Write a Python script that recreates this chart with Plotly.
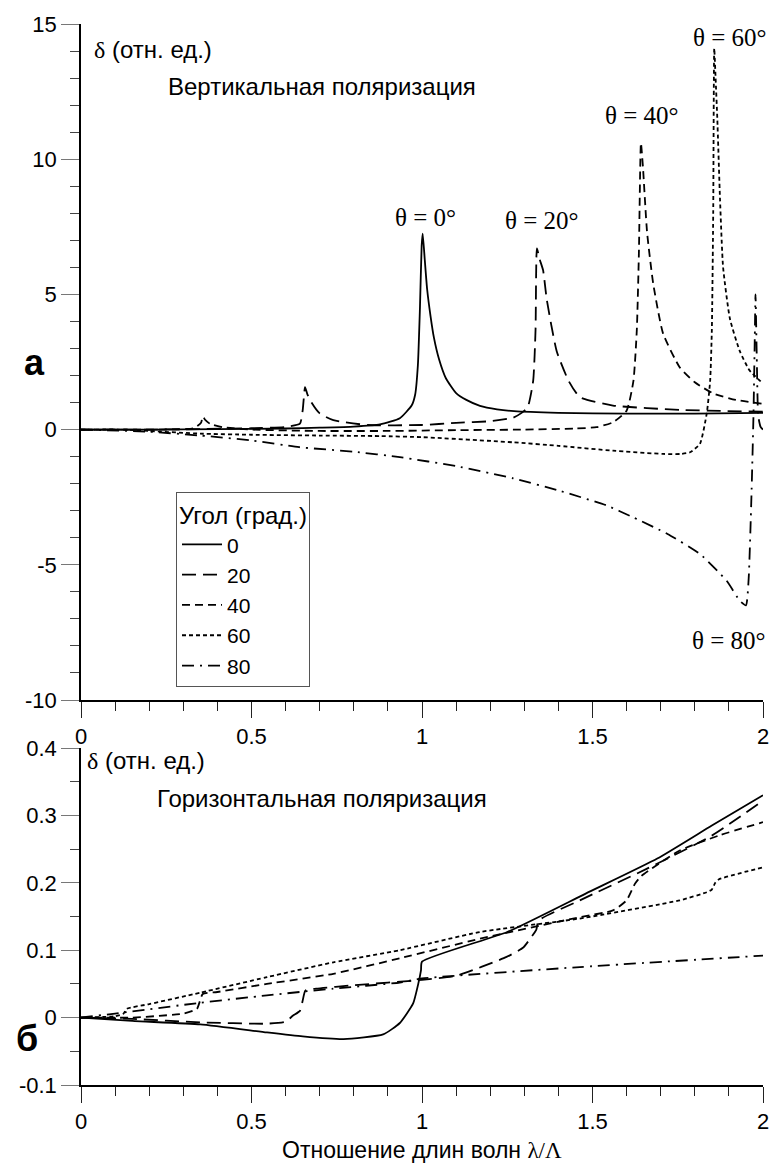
import plotly.graph_objects as go

W, H = 769, 1167

# ---- vertical polarization (top panel) ----
x_v0 = [0, 0.2, 0.4, 0.6, 0.7, 0.8, 0.877, 0.935, 0.97, 0.98, 0.988, 0.994, 0.999, 1.002,
        1.008, 1.015, 1.025, 1.035, 1.05, 1.07, 1.1, 1.13, 1.17, 1.22, 1.27, 1.4, 1.6, 1.8, 2.0]
y_v0 = [0, 0.0, 0.02, 0.04, 0.07, 0.11, 0.19, 0.42, 0.9, 1.3, 2.4, 4.5, 6.8, 7.25,
        6.3, 5.2, 4.2, 3.4, 2.6, 1.9, 1.35, 1.1, 0.88, 0.75, 0.68, 0.62, 0.59, 0.59, 0.62]

x_v20 = [0, 0.2, 0.35, 0.5, 0.6, 0.642, 0.65, 0.657, 0.664, 0.676, 0.7, 0.74, 0.84, 1.0, 1.1,
         1.2, 1.267, 1.29, 1.31, 1.326, 1.333, 1.337, 1.345, 1.355, 1.366, 1.395, 1.43, 1.463,
         1.56, 1.756, 2.0]
y_v20 = [0, 0.0, 0.02, 0.05, 0.1, 0.22, 0.7, 1.57, 1.3, 1.0, 0.6, 0.35, 0.17, 0.17, 0.25,
         0.31, 0.44, 0.6, 0.83, 1.8, 3.7, 6.7, 6.3, 5.9, 4.8, 2.9, 1.8, 1.2,
         0.89, 0.73, 0.66]

x_v40 = [0, 0.2, 0.33, 0.352, 0.357, 0.365, 0.38, 0.42, 0.5, 0.7, 0.9, 1.1, 1.3, 1.45, 1.512,
         1.56, 1.6, 1.62, 1.63, 1.636, 1.642, 1.648, 1.66, 1.678, 1.707, 1.756, 1.8, 1.855,
         1.92, 2.0]
y_v40 = [0, 0.0, 0.05, 0.25, 0.48, 0.35, 0.2, 0.08, 0.0, -0.05, -0.05, -0.02, 0.0, 0.04, 0.09,
         0.27, 0.7, 1.8, 3.7, 6.5, 10.6, 9.7, 7.3, 5.4, 3.55, 2.3, 1.75, 1.33,
         1.1, 0.95]

x_v60 = [0, 0.13, 0.2, 0.35, 0.5, 0.7, 0.877, 1.0, 1.267, 1.4, 1.56, 1.707, 1.76, 1.786,
         1.815, 1.835, 1.845, 1.85, 1.854, 1.857, 1.861, 1.866, 1.874, 1.883, 1.903, 1.932,
         1.96, 2.0]
y_v60 = [0, 0.0, -0.05, -0.15, -0.19, -0.22, -0.24, -0.28, -0.47, -0.6, -0.78, -0.9, -0.9, -0.84,
         -0.53, 0.6, 1.8, 3.7, 8.0, 14.1, 13.0, 11.5, 8.5, 6.0, 4.1, 2.9,
         2.2, 1.7]

x_v80 = [0, 0.2, 0.35, 0.5, 0.64, 0.8, 0.935, 1.1, 1.267, 1.4, 1.54, 1.62, 1.72, 1.815, 1.894,
         1.932, 1.95, 1.958, 1.966, 1.972, 1.976, 1.978, 1.982, 1.986, 1.993, 2.0]
y_v80 = [0, -0.08, -0.22, -0.4, -0.65, -0.82, -1.02, -1.35, -1.8, -2.25, -2.8, -3.25, -3.86, -4.6, -5.6,
         -6.33, -6.5, -5.5, -2.5, 0.5, 3.5, 5.0, 2.5, 0.5, 0.1, 0.0]

# ---- horizontal polarization (bottom panel) ----
x_h0 = [0, 0.15, 0.35, 0.545, 0.65, 0.77, 0.886, 0.935, 0.974, 0.989, 0.997, 1.0,
        1.25, 1.48, 1.69, 1.85, 2.0]
y_h0 = [0, -0.005, -0.01, -0.022, -0.028, -0.032, -0.025, -0.008, 0.021, 0.05, 0.07, 0.083,
        0.127, 0.184, 0.236, 0.285, 0.33]

x_h20 = [0, 0.15, 0.35, 0.545, 0.6, 0.622, 0.642, 0.65, 0.658, 0.69, 0.8, 1.0, 1.1, 1.248,
         1.297, 1.32, 1.335, 1.342, 1.463, 1.66, 1.85, 2.0]
y_h20 = [0, -0.002, -0.007, -0.009, -0.006, 0.003, 0.01, 0.025, 0.04, 0.043, 0.048, 0.056, 0.062, 0.09,
         0.104, 0.119, 0.13, 0.144, 0.174, 0.221, 0.27, 0.322]

x_h40 = [0, 0.15, 0.3, 0.34, 0.357, 0.4, 0.545, 0.74, 0.935, 1.17, 1.463, 1.56, 1.6, 1.625,
         1.643, 1.756, 1.87, 2.0]
y_h40 = [0, 0.0, 0.006, 0.013, 0.035, 0.038, 0.05, 0.065, 0.088, 0.117, 0.149, 0.159, 0.174, 0.199,
         0.21, 0.248, 0.27, 0.29]

x_h60 = [0, 0.1, 0.125, 0.134, 0.2, 0.35, 0.545, 0.74, 0.935, 1.17, 1.463, 1.756, 1.835,
         1.85, 1.86, 1.87, 2.0]
y_h60 = [0, 0.002, 0.006, 0.013, 0.02, 0.037, 0.06, 0.082, 0.1, 0.127, 0.147, 0.174, 0.186,
         0.19, 0.2, 0.205, 0.223]

x_h80 = [0, 0.015, 0.1, 0.35, 0.545, 0.74, 0.935, 1.0, 1.463, 2.0]
y_h80 = [0, 0.001, 0.006, 0.022, 0.033, 0.043, 0.052, 0.058, 0.075, 0.092]

angles = ["0", "20", "40", "60", "80"]
dashes = ["solid", "14px,7px", "8px,5px", "4px,3px", "12px,6px,2px,6px"]
vert = [(x_v0, y_v0), (x_v20, y_v20), (x_v40, y_v40), (x_v60, y_v60), (x_v80, y_v80)]
horiz = [(x_h0, y_h0), (x_h20, y_h20), (x_h40, y_h40), (x_h60, y_h60), (x_h80, y_h80)]

SANS = "Liberation Sans, Arial, sans-serif"
SERIF = "Liberation Serif, Times New Roman, serif"

fig = go.Figure()
for ang, dash, (xs, ys) in zip(angles, dashes, vert):
    fig.add_trace(go.Scatter(x=xs, y=ys, mode="lines", name=ang,
                             line=dict(color="black", width=1.8, dash=dash,
                                       shape="spline", smoothing=0.5),
                             xaxis="x", yaxis="y"))
for ang, dash, (xs, ys) in zip(angles, dashes, horiz):
    fig.add_trace(go.Scatter(x=xs, y=ys, mode="lines", name=ang, showlegend=False,
                             line=dict(color="black", width=1.8, dash=dash,
                                       shape="spline", smoothing=0.5),
                             xaxis="x2", yaxis="y2"))

def px_x(p):
    return p / W

def px_y(p):
    return 1 - p / H

xdom = [px_x(81), px_x(763)]
xticks = dict(tickmode="array", tickvals=[0, 0.5, 1, 1.5, 2], ticktext=["0", "0.5", "1", "1.5", "2"])
axis_common = dict(showline=True, linecolor="black", linewidth=1.5, ticks="outside",
                   showgrid=False, zeroline=False, mirror=False,
                   automargin=False, ticklabeloverflow="allow",
                   tickfont=dict(family=SANS, size=22, color="black"))

xminor = dict(tickmode="linear", tick0=0, dtick=0.1, ticklen=9, ticks="outside",
              tickcolor="#222", showgrid=False)

fig.update_layout(
    width=W, height=H, margin=dict(l=0, r=0, t=0, b=0, autoexpand=False), autosize=False,
    paper_bgcolor="white", plot_bgcolor="white",
    xaxis=dict(domain=xdom, range=[0, 2], anchor="y", ticklen=16, tickcolor="#222",
               minor=xminor, **xticks, **axis_common),
    yaxis=dict(domain=[px_y(700), px_y(24)], range=[-10, 15], anchor="x", ticklen=18,
               tickcolor="#777", tickmode="array", tickvals=[-10, -5, 0, 5, 10, 15],
               ticktext=["-10", "-5", "0", "5", "10", "15"],
               minor=dict(tickmode="linear", tick0=0, dtick=1, ticklen=9, ticks="outside",
                          tickcolor="#444", showgrid=False),
               **axis_common),
    xaxis2=dict(domain=xdom, range=[0, 2], anchor="y2", ticklen=16, tickcolor="#222",
                minor=xminor, **xticks, **axis_common),
    yaxis2=dict(domain=[px_y(1085), px_y(748)], range=[-0.1, 0.4], anchor="x2", ticklen=18,
                tickcolor="#777", tickmode="array", tickvals=[-0.1, 0, 0.1, 0.2, 0.3, 0.4],
                ticktext=["-0.1", "0", "0.1", "0.2", "0.3", "0.4"],
                minor=dict(tickmode="linear", tick0=0, dtick=0.05, ticklen=9, ticks="outside",
                           tickcolor="#444", showgrid=False),
                **axis_common),
    legend=dict(x=px_x(176), y=px_y(492), xanchor="left", yanchor="top",
                bgcolor="white", bordercolor="#555", borderwidth=1,
                font=dict(family=SANS, size=21, color="black"),
                title=dict(text="Угол (град.)", font=dict(family=SANS, size=24, color="black")),
                tracegroupgap=0, itemwidth=40),
    showlegend=True,
)

delta = '<span style="font-family:Liberation Serif">δ</span> (отн. ед.)'
paper_texts = [
    (delta, 92, 49, "left", 24, False),
    ("Вертикальная поляризация", 166, 87, "left", 24, False),
    ("а", 34, 362, "center", 36, True),
    (delta, 85, 760, "left", 24, False),
    ("Горизонтальная поляризация", 155, 798, "left", 24, False),
    ("б", 27, 1038, "center", 36, True),
    ("Отношение длин волн <span style=\"font-family:Liberation Serif\">λ/Λ</span>", 422, 1150, "center", 23, False),
]
for txt, px, py, anchor, size, bold in paper_texts:
    fig.add_annotation(text=f"<b>{txt}</b>" if bold else txt, xref="paper", yref="paper",
                       x=px_x(px), y=px_y(py), xanchor=anchor, yanchor="middle",
                       showarrow=False, font=dict(family=SANS, size=size, color="black"))

theta_labels = ["θ = 0°", "θ = 20°", "θ = 40°", "θ = 60°", "θ = 80°"]
theta_x = [1.01, 1.352, 1.645, 1.902, 1.9]
theta_y = [7.85, 7.74, 11.6, 14.5, -7.8]
for txt, tx, ty in zip(theta_labels, theta_x, theta_y):
    fig.add_annotation(text=txt, x=tx, y=ty, xref="x", yref="y", showarrow=False,
                       xanchor="center", yanchor="middle",
                       font=dict(family=SERIF, size=25, color="black"))

# page body has a default 8px margin; drop it so the figure sits at the window corner
fig.write_html("out.html", config={"displayModeBar": False},
               post_script="document.body.style.margin='0px';")
